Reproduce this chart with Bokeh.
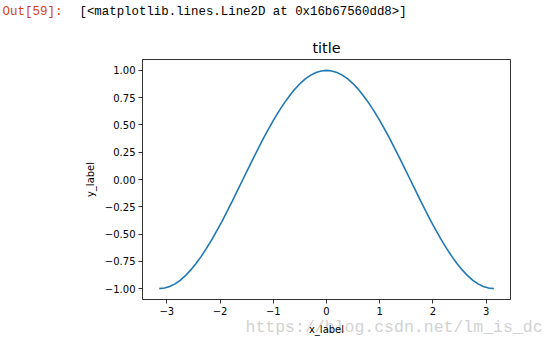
from bokeh.plotting import figure
from bokeh.models import Range1d, Label, FixedTicker, LinearAxis
from bokeh.embed import file_html
from bokeh.resources import INLINE

# data (cosine-shaped curve)
x_vals = [-3.142, -3.043, -2.945, -2.847, -2.749, -2.651, -2.553, -2.454, -2.356,
          -2.258, -2.160, -2.062, -1.963, -1.865, -1.767, -1.669, -1.571,
          -1.473, -1.374, -1.276, -1.178, -1.080, -0.982, -0.884, -0.785,
          -0.687, -0.589, -0.491, -0.393, -0.295, -0.196, -0.098, 0.0,
          0.098, 0.196, 0.295, 0.393, 0.491, 0.589, 0.687, 0.785,
          0.884, 0.982, 1.080, 1.178, 1.276, 1.374, 1.473, 1.571,
          1.669, 1.767, 1.865, 1.963, 2.062, 2.160, 2.258, 2.356,
          2.454, 2.553, 2.651, 2.749, 2.847, 2.945, 3.043, 3.142]
y_vals = [-1.0, -0.995, -0.981, -0.957, -0.924, -0.882, -0.831, -0.773, -0.707,
          -0.634, -0.556, -0.471, -0.383, -0.290, -0.195, -0.098, 0.0,
          0.098, 0.195, 0.290, 0.383, 0.471, 0.556, 0.634, 0.707,
          0.773, 0.831, 0.882, 0.924, 0.957, 0.981, 0.995, 1.0,
          0.995, 0.981, 0.957, 0.924, 0.882, 0.831, 0.773, 0.707,
          0.634, 0.556, 0.471, 0.383, 0.290, 0.195, 0.098, 0.0,
          -0.098, -0.195, -0.290, -0.383, -0.471, -0.556, -0.634, -0.707,
          -0.773, -0.831, -0.882, -0.924, -0.957, -0.981, -0.995, -1.0]

x_ticks = [-3, -2, -1, 0, 1, 2, 3]
x_tick_labels = ["\u22123", "\u22122", "\u22121", "0", "1", "2", "3"]
y_ticks = [1.0, 0.75, 0.5, 0.25, 0.0, -0.25, -0.5, -0.75, -1.0]
y_tick_labels = ["1.00", "0.75", "0.50", "0.25", "0.00",
                 "\u22120.25", "\u22120.50", "\u22120.75", "\u22121.00"]

title_text = "title"
x_label = "x_label"
y_label = "y_label"
out_prompt = "Out[59]:"
out_repr = "[<matplotlib.lines.Line2D at 0x16b67560dd8>]"
watermark = "https://blog.csdn.net/lm_is_dc"

# axes box (matplotlib axes) on the canvas, and its data limits
W, H = 557, 343
FL, FR, FT, FB = 142, 510, 59, 299
X0, X1 = -3.456, 3.456
Y0, Y1 = -1.1, 1.1
kx = (FR - FL) / (X1 - X0)
ky = (FB - FT) / (Y1 - Y0)

p = figure(width=W, height=H, min_border=0,
           x_range=Range1d(X0 - FL / kx, X1 + (W - FR) / kx),
           y_range=Range1d(Y0 - (H - FB) / ky, Y1 + FT / ky),
           x_axis_type=None, y_axis_type=None,
           output_backend="svg", toolbar_location=None)
p.background_fill_color = "white"
p.border_fill_color = "white"
p.outline_line_color = None


def style_axis(ax, ticks, labels, lab):
    ax.ticker = FixedTicker(ticks=ticks)
    ax.major_label_overrides = {t: l for t, l in zip(ticks, labels)}
    ax.minor_tick_line_color = None
    ax.major_tick_in = 0
    ax.major_tick_out = 4
    ax.major_tick_line_color = "black"
    ax.major_tick_line_width = 0.8
    ax.axis_line_color = "black"
    ax.axis_line_width = 0.8
    ax.major_label_text_font = "DejaVu Sans"
    ax.major_label_text_font_size = "10px"
    ax.major_label_text_color = "#000000"
    ax.major_label_standoff = 3
    ax.axis_label = lab
    ax.axis_label_text_font = "DejaVu Sans"
    ax.axis_label_text_font_size = "10px"
    ax.axis_label_text_font_style = "normal"
    ax.axis_label_text_color = "#000000"
    ax.axis_label_standoff = 6


# watermark (drawn first so the axis label sits on top of it)
p.add_layout(Label(x=245, y=H - 327, x_units="screen", y_units="screen",
                   text=watermark, text_font="Liberation Mono",
                   text_font_size="16.5px", text_color="#d2d2d2",
                   text_baseline="alphabetic", text_align="left",
                   level="underlay"))

xax = LinearAxis(fixed_location=Y0, bounds=(X0, X1))
style_axis(xax, x_ticks, x_tick_labels, x_label)
p.add_layout(xax, "below")

yax = LinearAxis(fixed_location=X0, bounds=(Y0, Y1))
style_axis(yax, y_ticks, y_tick_labels, y_label)
p.add_layout(yax, "left")

for side, loc, bnd in (("above", Y1, (X0, X1)), ("right", X1, (Y0, Y1))):
    ax = LinearAxis(fixed_location=loc, bounds=bnd, ticker=FixedTicker(ticks=[]))
    ax.minor_tick_line_color = None
    ax.major_tick_line_color = None
    ax.axis_line_color = "black"
    ax.axis_line_width = 0.8
    p.add_layout(ax, side)

p.line(x_vals, y_vals, line_color="#1f77b4", line_width=1.6)

# title and notebook cell header
p.add_layout(Label(x=(FL + FR) / 2, y=H - 47, x_units="screen", y_units="screen",
                   text=title_text, text_font="DejaVu Sans",
                   text_font_size="14.4px", text_color="#000000",
                   text_baseline="middle", text_align="center"))
p.add_layout(Label(x=2, y=H - 11, x_units="screen", y_units="screen",
                   text=out_prompt, text_font="Liberation Mono",
                   text_font_size="12.5px", text_color="#d84315",
                   text_baseline="middle", text_align="left"))
p.add_layout(Label(x=79, y=H - 11, x_units="screen", y_units="screen",
                   text=out_repr, text_font="Liberation Mono",
                   text_font_size="12.4px", text_color="#000000",
                   text_baseline="middle", text_align="left"))

open("out.html", "w").write(file_html(p, INLINE))
